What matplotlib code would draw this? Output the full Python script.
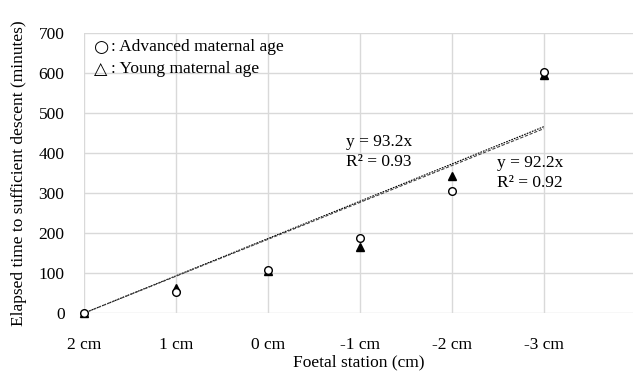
import matplotlib.pyplot as plt

stations = ["2 cm", "1 cm", "0 cm", "-1 cm", "-2 cm", "-3 cm"]
advanced = [0, 53, 108, 187, 306, 603]
young = [0, 62, 105, 165, 342, 595]
slope_adv = 92.2
slope_young = 93.2

plt.rcParams['font.family'] = ['Liberation Serif', 'DejaVu Sans']
plt.rcParams['font.size'] = 12.5

fig = plt.figure(figsize=(6.33, 3.8), dpi=100)
ax = fig.add_axes([0.1327, 0.176, 0.8673, 0.737])

x = list(range(len(stations)))

ax.plot(x, [slope_young * v for v in x], color='black', lw=0.8, ls=(0, (1.5, 1)), zorder=2)
ax.plot(x, [slope_adv * v for v in x], color='#444444', lw=0.8, ls=(0, (3, 1.5)), zorder=2)

ax.plot(x, young, ls='none', marker='^', ms=6, mfc='black', mec='black', zorder=3, clip_on=False)
ax.plot(x, advanced, ls='none', marker='o', ms=5.5, mfc='white', mec='black', mew=1, zorder=4, clip_on=False)

ax.set_xlim(0, 5.97)
ax.set_ylim(0, 700)
ax.set_xticks(x)
ax.set_xticklabels(stations)
ax.set_yticks(range(0, 701, 100))
ax.grid(True, color='#d9d9d9', lw=1)
ax.set_axisbelow(True)
for s in ax.spines.values():
    s.set_visible(False)
ax.tick_params(axis='x', length=0, pad=17)
ax.tick_params(axis='y', length=0, pad=14)

ax.set_xlabel("Foetal station (cm)", labelpad=1)
ax.set_ylabel("Elapsed time to sufficient descent (minutes)", labelpad=8)

ax.text(0.11, 665, "\u25cb", va='center', ha='left', family='DejaVu Sans', fontsize=12.5)
ax.text(0.11, 610, "\u25b3", va='center', ha='left', family='DejaVu Sans', fontsize=12.5)
ax.text(0.29, 665, ": Advanced maternal age", va='center', ha='left')
ax.text(0.29, 610, ": Young maternal age", va='center', ha='left')

ax.text(2.85, 427, "y = 93.2x", va='center', ha='left')
ax.text(2.85, 377, "R\u00b2 = 0.93", va='center', ha='left')
ax.text(4.49, 375, "y = 92.2x", va='center', ha='left')
ax.text(4.49, 325, "R\u00b2 = 0.92", va='center', ha='left')

fig.savefig("out.png", dpi=100)
